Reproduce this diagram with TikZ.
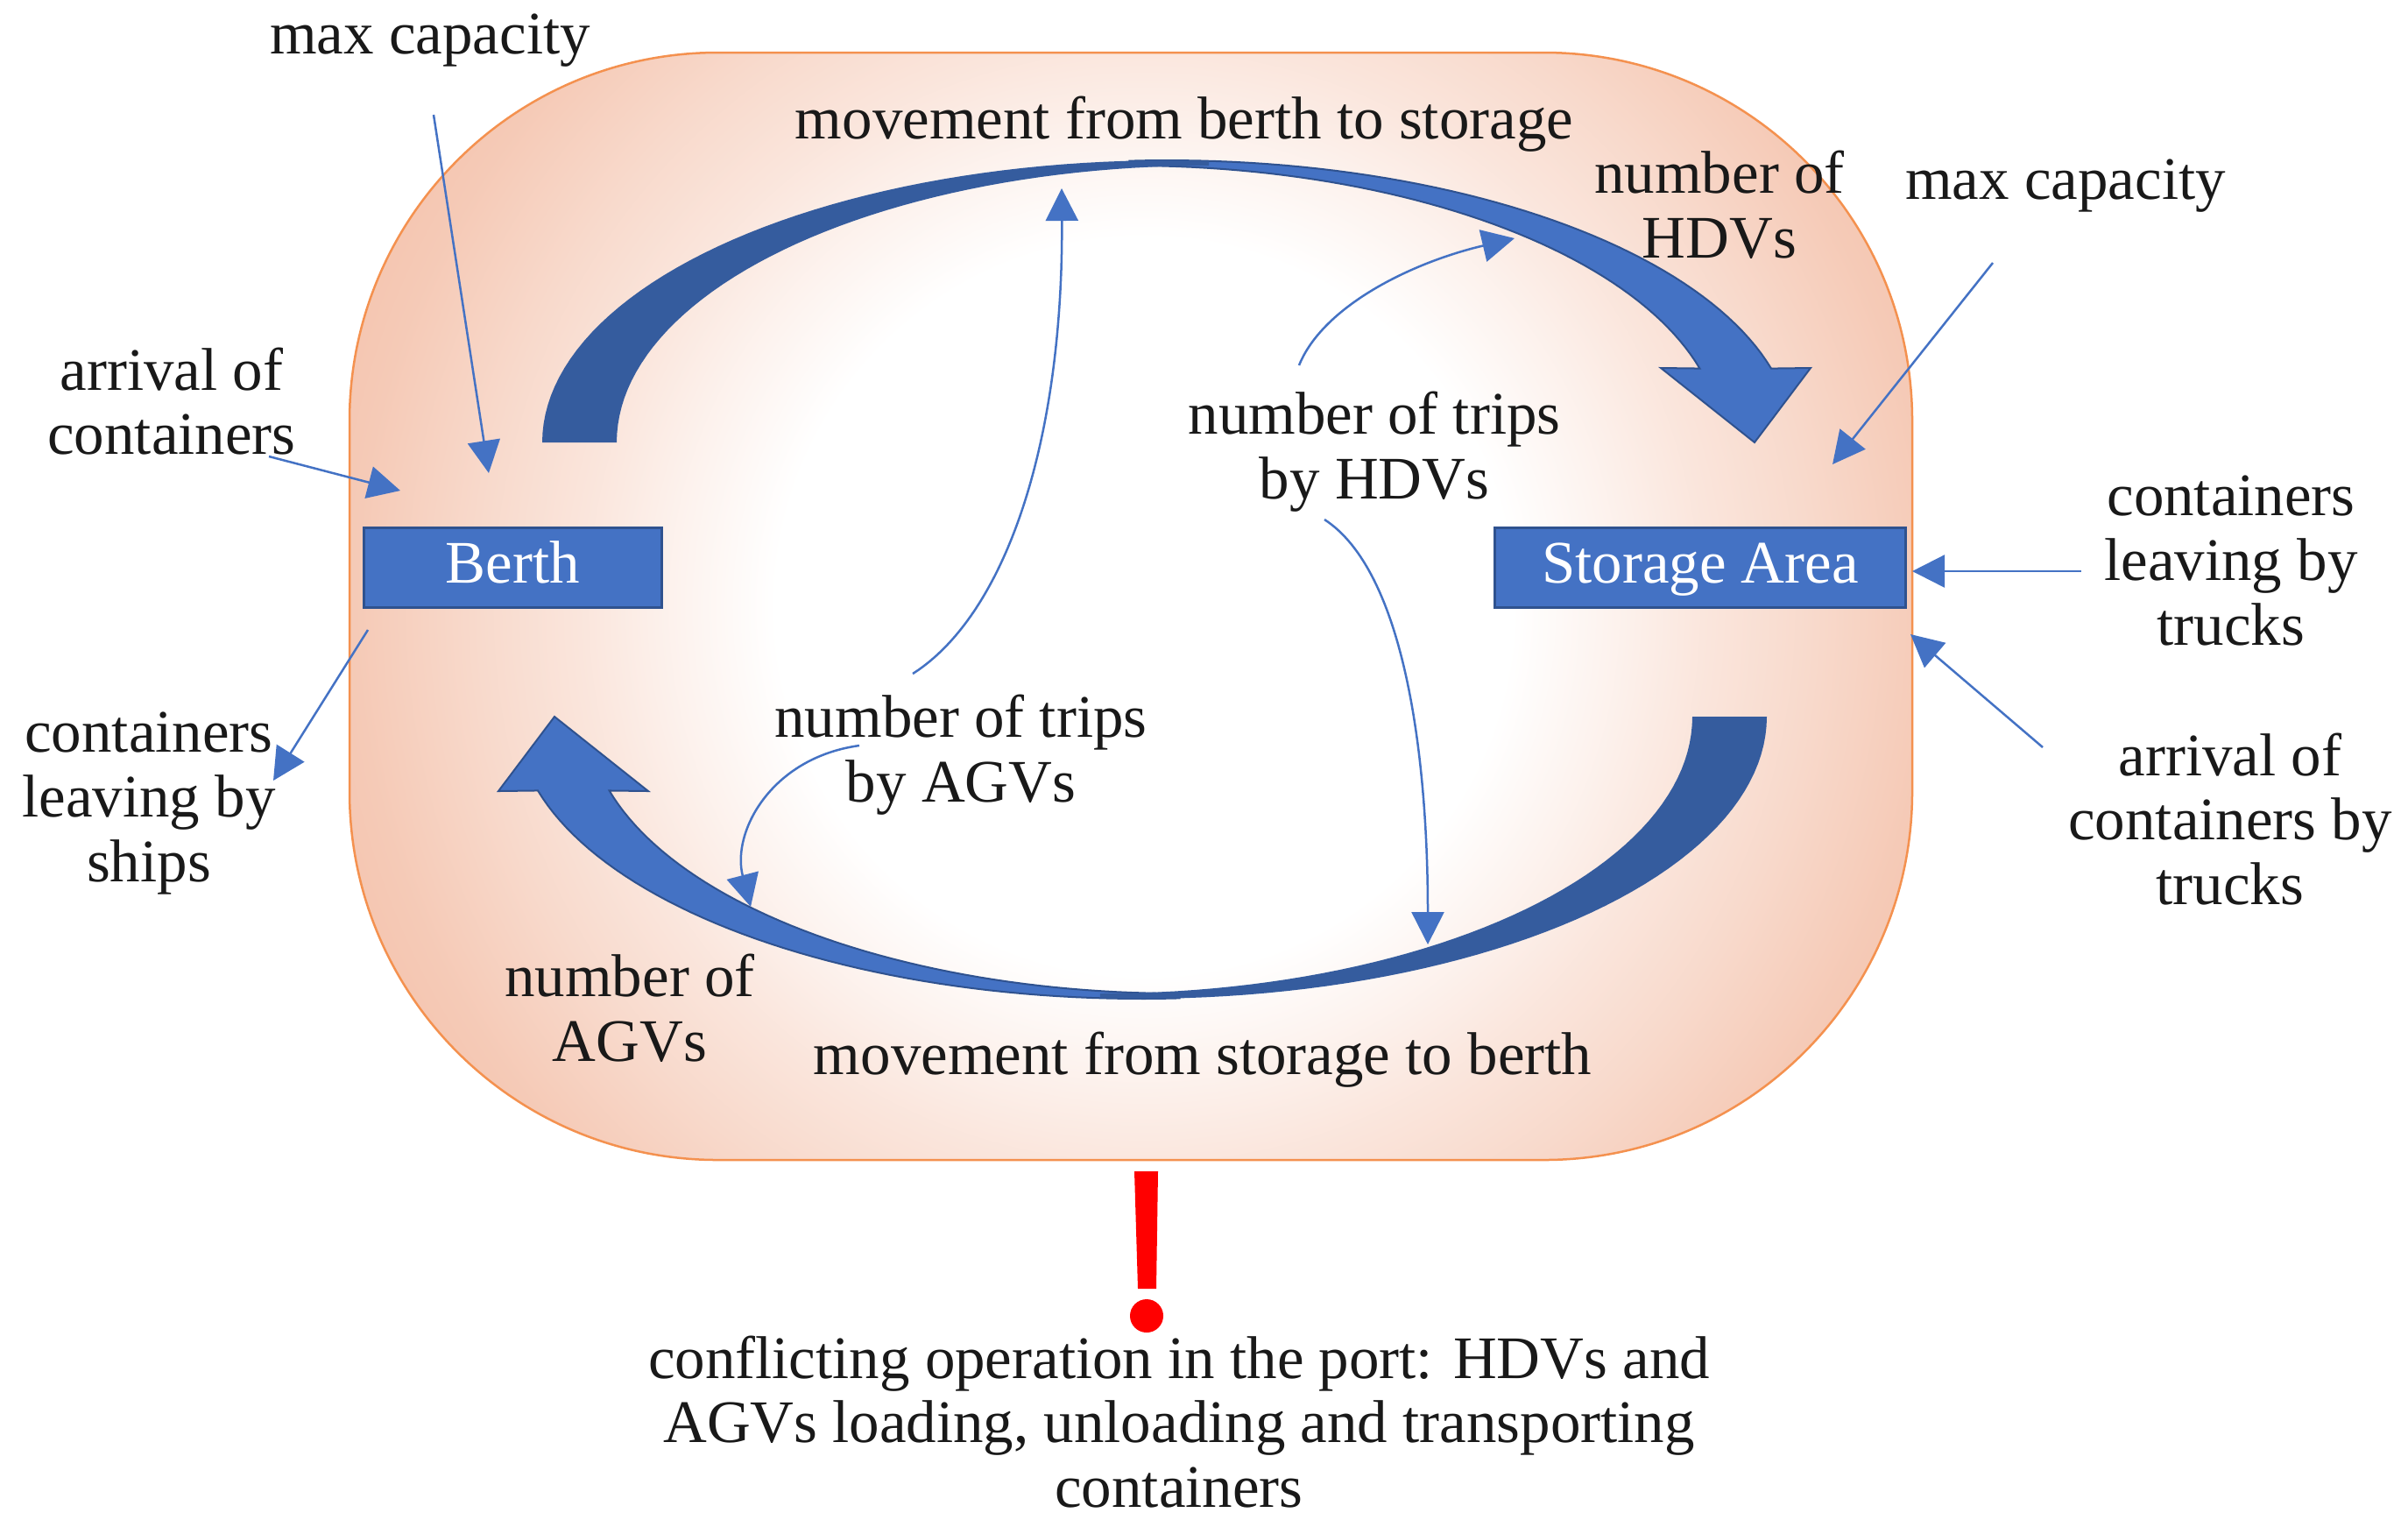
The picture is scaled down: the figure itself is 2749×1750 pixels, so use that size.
\documentclass[tikz,border=0pt]{standalone}
\usepackage{fontspec}
\setmainfont{Liberation Serif}
\usetikzlibrary{arrows.meta,calc}
\definecolor{peach}{HTML}{F4C3AD}
\definecolor{blob}{HTML}{F4914F}
\definecolor{bluA}{HTML}{4472C4}
\definecolor{bluD}{HTML}{355C9E}
\definecolor{bluE}{HTML}{2F528F}
\pgfdeclareradialshading{portrad}{\pgfpoint{0bp}{0bp}}{
 color(0bp)=(white); color(10.5bp)=(white); color(13.5bp)=(white!78!peach);
 color(16bp)=(white!58!peach); color(19bp)=(white!38!peach); color(22.5bp)=(white!12!peach); color(25bp)=(peach); color(50bp)=(peach)}
\tikzset{
 x=0.01cm,y=-0.01cm,
 txt/.style={font=\fontsize{19.6pt}{21pt}\selectfont,align=center,inner sep=0pt,text=black!90},
 boxw/.style={fill=bluA,draw=bluE,line width=0.03cm,text=white,font=\fontsize{19.6pt}{21pt}\selectfont,inner sep=0pt,anchor=center,text height=0.44cm,text depth=0.10cm},
 thin/.style={draw=bluA,line width=0.025cm,-{Triangle[length=0.37cm,width=0.37cm]}},
 darkband/.style={fill=bluD,draw=none},
 lightband/.style={fill=bluA,draw=bluE,line width=0.02cm,line join=miter},
}
\newcommand{\portdark}{plot[domain=-90:3.8,samples=50] ({1333+714*sin(\x)},{505-322*cos(\x)}) -- plot[domain=0:-90,samples=50] ({1380+676*sin(\x)},{505-316*cos(\x)}) -- cycle}
\newcommand{\portlight}{plot[domain=-3.5:74.8,samples=50] ({1333+714*sin(\x)},{505-322*cos(\x)}) -- (2067,420) -- (2003,505) -- (1896,420) -- plot[domain=74.5:0,samples=50] ({1290+675*sin(\x)},{505-316*cos(\x)}) -- cycle}
\begin{document}
\begin{tikzpicture}
\useasboundingbox (0,0) rectangle (2749,1750);
\begin{scope}
 \clip[rounded corners=4.2cm] (399,60) rectangle (2183,1324);
 \shade[shading=portrad] (306,-308) rectangle (2306,1692);
\end{scope}
\draw[blob,line width=0.025cm,rounded corners=4.2cm] (399,60) rectangle (2183,1324);

\draw[lightband] \portlight;
\fill[darkband] \portdark;
\begin{scope}[rotate around={180:(1318,661.5)}]
 \draw[lightband] \portlight;
 \fill[darkband] \portdark;
\end{scope}

\node[boxw,minimum width=3.40cm,minimum height=0.91cm] (berth) at (585.5,648) {Berth};
\node[boxw,minimum width=4.68cm,minimum height=0.91cm] (store) at (1941,648) {Storage Area};

\node[txt] (mc1) at (491,46) {max capacity};
\node[txt] (mc2) at (2358,212) {max capacity};
\node[txt] (mv1) at (1352,142) {movement from berth to storage};
\node[txt] (nh) at (1963,234) {number of\\HDVs};
\node[txt] (ac) at (196,458) {arrival of\\containers};
\node[txt] (th) at (1569,516) {number of trips\\by HDVs};
\node[txt] (lt) at (2547,640) {containers\\leaving by\\trucks};
\node[txt] (ls) at (170,917) {containers\\leaving by\\ships};
\node[txt] (ta) at (1097,862) {number of trips\\by AGVs};
\node[txt] (at) at (2546,935) {arrival of\\containers by\\trucks};
\node[txt] (na) at (719,1151) {number of\\AGVs};
\node[txt] (mv2) at (1373,1210) {movement from storage to berth};
\node[txt] (cf) at (1346,1623) {conflicting operation in the port: HDVs and\\AGVs loading, unloading and transporting\\containers};

\coordinate (a1s) at (495,131); \coordinate (a1e) at (558,540);
\coordinate (a2s) at (307,521); \coordinate (a2e) at (457,560);
\coordinate (a3s) at (420,719); \coordinate (a3e) at (312,891);
\coordinate (a4s) at (2275,300); \coordinate (a4e) at (2092,530);
\coordinate (a5s) at (2376,652); \coordinate (a5e) at (2183,652);
\coordinate (a6s) at (2332,853); \coordinate (a6e) at (2181,724);
\draw[thin] (a1s) -- (a1e);
\draw[thin] (a2s) -- (a2e);
\draw[thin] (a3s) -- (a3e);
\draw[thin] (a4s) -- (a4e);
\draw[thin] (a5s) -- (a5e);
\draw[thin] (a6s) -- (a6e);
\draw[thin] (1042,769) .. controls (1150,700) and (1214,500) .. (1212,215);
\draw[thin] (981,851) .. controls (880,865) and (835,950) .. (857,1035);
\draw[thin] (1483,417) .. controls (1510,350) and (1610,300) .. (1729,272);
\draw[thin] (1512,593) .. controls (1600,650) and (1630,850) .. (1630,1078);

\fill[red] (1295,1337) -- (1322,1337) -- (1320,1471) -- (1299,1471) -- cycle;
\fill[red] (1309,1502) circle (0.19cm);
\end{tikzpicture}
\end{document}
